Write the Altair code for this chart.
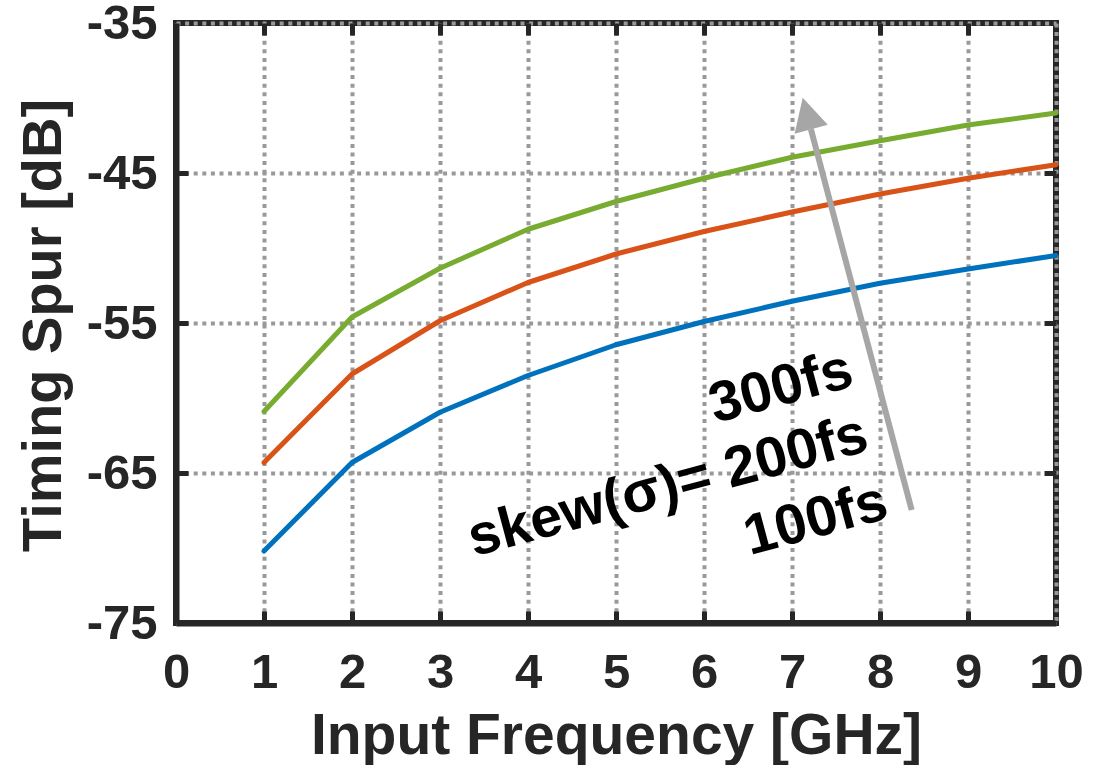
import altair as alt
import pandas as pd

freq = [1, 2, 3, 4, 5, 6, 7, 8, 9, 10]
spur_100fs = [-70.2, -64.3, -60.95, -58.5, -56.45, -54.9, -53.55, -52.35, -51.4, -50.5]
spur_200fs = [-64.3, -58.4, -54.85, -52.3, -50.4, -48.9, -47.6, -46.4, -45.35, -44.45]
spur_300fs = [-60.9, -54.6, -51.35, -48.75, -46.9, -45.35, -43.95, -42.85, -41.8, -41.0]
series_names = ["100fs", "200fs", "300fs"]
series_colors = ["#0072BD", "#D95319", "#77AC30"]

x_ticks = [0, 1, 2, 3, 4, 5, 6, 7, 8, 9, 10]
y_ticks = [-75, -65, -55, -45, -35]

annot_text = ["300fs", "skew(σ)= 200fs", "100fs"]
annot_x = [6.875, 5.59, 7.27]
annot_y = [-59.33, -65.93, -68.13]

arrow_x = [8.36, 7.215]
arrow_y = [-67.47, -42.09]
arrowhead_x = [7.17]
arrowhead_y = [-41.03]

rows = []
for name, vals in zip(series_names, [spur_100fs, spur_200fs, spur_300fs]):
    for f, v in zip(freq, vals):
        rows.append({"freq": f, "spur": v, "series": name})
df = pd.DataFrame(rows)

annot_df = pd.DataFrame({"x": annot_x, "y": annot_y, "t": annot_text})
arrow_df = pd.DataFrame({"x": [arrow_x[0]], "y": [arrow_y[0]], "x2": [arrow_x[1]], "y2": [arrow_y[1]]})
head_df = pd.DataFrame({"x": arrowhead_x, "y": arrowhead_y})

FONT = "Liberation Sans"
DARK = "#262626"

xscale = alt.Scale(domain=[0, 10], nice=False, zero=False)
yscale = alt.Scale(domain=[-75, -35], nice=False, zero=False)

main_x_axis = alt.Axis(
    values=x_ticks, title="Input Frequency [GHz]", labelFont=FONT, labelFontSize=49,
    labelFontWeight="bold", labelColor=DARK, labelPadding=25, ticks=False, tickSize=0,
    domain=True, domainColor=DARK, domainWidth=6, grid=True, gridColor="#999999",
    gridWidth=4, gridDash=[4, 4.6], titleFont=FONT, titleFontSize=57, titleFontWeight="bold",
    titleColor=DARK, titleY=130, titleBaseline="alphabetic", labelExpr="'' + datum.value",
    labelFlush=False, labelOverlap=False,
)
main_y_axis = alt.Axis(
    values=y_ticks, title="Timing Spur [dB]", labelFont=FONT, labelFontSize=49,
    labelFontWeight="bold", labelColor=DARK, labelPadding=19, ticks=False, tickSize=0,
    domain=True, domainColor=DARK, domainWidth=6, grid=True, gridColor="#999999",
    gridWidth=4, gridDash=[4, 4.6], titleFont=FONT, titleFontSize=56, titleFontWeight="bold",
    titleColor=DARK, titleX=-116, titleY=302, titleAngle=270, titleBaseline="alphabetic",
    titleAlign="center", labelExpr="'' + datum.value", labelFlush=False, labelOverlap=False,
)

lines = alt.Chart(df).mark_line(strokeWidth=5, strokeCap="round", strokeJoin="round").encode(
    x=alt.X("freq:Q", scale=xscale, axis=main_x_axis),
    y=alt.Y("spur:Q", scale=yscale, axis=main_y_axis),
    color=alt.Color("series:N", scale=alt.Scale(domain=series_names, range=series_colors), legend=None),
)


def tick_axis(orient, values):
    return alt.Axis(orient=orient, values=values, labels=False, title=None, domain=False,
                    grid=False, ticks=True, tickSize=12, offset=-12, tickColor=DARK, tickWidth=5)


ticks_bl = alt.Chart(df).mark_point(opacity=0, size=1).encode(
    x=alt.X("freq:Q", scale=xscale, axis=tick_axis("bottom", x_ticks[1:-1])),
    y=alt.Y("spur:Q", scale=yscale, axis=tick_axis("left", y_ticks[1:-1])),
)
ticks_tr = alt.Chart(df).mark_point(opacity=0, size=1).encode(
    x=alt.X("freq:Q", scale=xscale, axis=tick_axis("top", x_ticks[1:-1])),
    y=alt.Y("spur:Q", scale=yscale, axis=tick_axis("right", y_ticks[1:-1])),
)

arrow = alt.Chart(arrow_df).mark_rule(color="#A6A6A6", strokeWidth=6).encode(
    x=alt.X("x:Q", scale=xscale, axis=None),
    y=alt.Y("y:Q", scale=yscale, axis=None),
    x2="x2:Q", y2="y2:Q",
)
head = alt.Chart(head_df).mark_point(
    shape="M0,-1L1.05,1L-1.05,1Z", filled=True, color="#A6A6A6", opacity=1, size=1069, angle=345
).encode(
    x=alt.X("x:Q", scale=xscale, axis=None),
    y=alt.Y("y:Q", scale=yscale, axis=None),
)

labels = alt.Chart(annot_df).mark_text(
    font=FONT, fontSize=57, fontWeight="bold", color="#000000", angle=345,
    align="center", baseline="middle"
).encode(
    x=alt.X("x:Q", scale=xscale, axis=None),
    y=alt.Y("y:Q", scale=yscale, axis=None),
    text="t:N",
)

chart = alt.layer(lines, ticks_bl, ticks_tr, arrow, head, labels).resolve_axis(
    x="independent", y="independent"
).properties(
    width=880, height=600,
    autosize=alt.AutoSizeParams(type="none"),
    padding={"left": 176, "top": 23, "right": 43, "bottom": 142},
    background="white",
).configure_view(stroke=DARK, strokeWidth=6)

chart.save("out.html", embed_options={"renderer": "svg", "actions": False})
